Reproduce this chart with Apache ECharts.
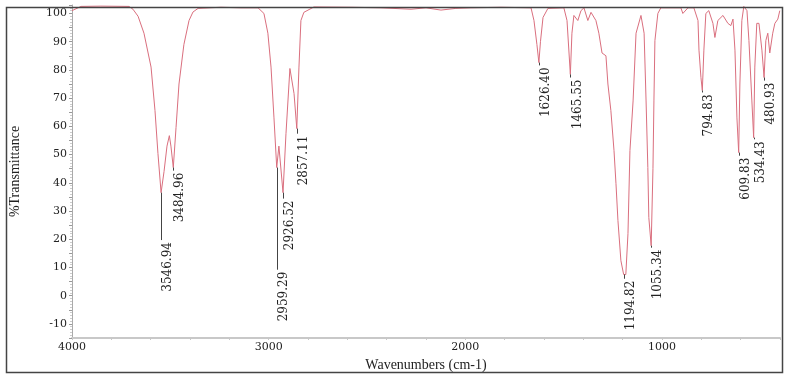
<!DOCTYPE html>
<html>
<head>
<meta charset="utf-8">
<script src="https://cdn.jsdelivr.net/npm/echarts@6/dist/echarts.min.js"></script>
<style>
html,body{margin:0;padding:0;background:#fff;}
#chart{width:786px;height:377px;}
</style>
</head>
<body>
<div id="chart"></div>
<script>
// Spectrum trace (wavenumber cm-1, %T)
const wavenumbers = [4000,3954,3853,3710,3690,3664,3634,3598,3578,3563,3547,3532,3517,3505,3497,3485,3471,3456,3431,3405,3385,3359,3243,3141,3054,3024,3004,2988,2973,2959,2948,2927,2912,2892,2871,2857,2846,2836,2821,2770,2582,2429,2276,2200,2124,2048,1972,1819,1666,1651,1636,1626,1618,1605,1580,1499,1483,1466,1458,1448,1428,1412,1397,1377,1361,1336,1321,1305,1285,1275,1260,1244,1234,1224,1209,1195,1184,1173,1163,1147,1132,1107,1091,1081,1072,1067,1055,1046,1041,1036,1021,1006,904,894,868,838,817,812,802,795,787,777,762,741,731,716,690,665,650,639,629,619,610,604,594,584,568,558,543,534,528,518,507,492,481,472,462,452,437,426,411,401];
const transmittance = [101,102.5,102.6,102.5,101.5,99,93,81,65.6,50.4,36.5,44,53,56.7,53,45.4,59.6,75,89,97.5,100.5,101.8,102.2,102,102,100,93,81,63,45.4,53,36.5,57.4,80.5,71.6,59.2,81,97.5,100.4,102.3,102.2,102,101.5,102,101.2,101.8,102,102.2,102,97.5,89,82.6,90,98.6,101.8,102,97.5,78.4,93,99.3,97.5,101,102,97.5,100.4,97.5,93,86,85,75,65.6,51.4,39.7,26.6,12.4,7.5,7.5,22,51.4,69,93,99.3,93,69,45.4,27.7,17.7,45,69,90.4,100,102,102,100,102,102,97.5,87,77.3,72.7,87,100,101,96.5,91.5,97.5,99.3,96.5,95.7,98,87,63,50.7,75,97.5,102.5,101,90.4,69,56,81,96.5,96.5,87,77.3,90.4,93,86,93,96.5,98,101];

// Peak annotations
const peakWavenumbers = [3546.94,3484.96,2959.29,2926.52,2857.11,1626.40,1465.55,1194.82,1055.34,794.83,609.83,534.43,480.93];
const peakMinT = [36.5,45.4,45.4,36.5,59.2,82.6,78.4,7.5,17.7,72.7,50.7,56,77.3];
const peakLabelT = [19.7,44.3,9.2,34.4,57.4,81.6,77.3,6.0,17.0,72.0,49.6,55.4,76.2];
const peakLabels = ['3546.94','3484.96','2959.29','2926.52','2857.11','1626.40','1465.55','1194.82','1055.34','794.83','609.83','534.43','480.93'];

// Tick labels
const xTickLabels = [1000,2000,3000,4000];
const yTickLabels = [-10,0,10,20,30,40,50,60,70,80,90,100];

const spectrum = wavenumbers.map((w,i)=>[w, transmittance[i]]);
const peakData = peakWavenumbers.map((w,i)=>[w, peakMinT[i], peakLabelT[i]]);

const chart = echarts.init(document.getElementById('chart'), null, {renderer:'canvas'});
const tickFont = '"DejaVu Serif", serif';
chart.setOption({
  backgroundColor:'#fff',
  animation:false,
  grid:{left:71, right:6, top:5, bottom:39, containLabel:false},
  xAxis:{
    type:'value', inverse:true, min:400, max:4000, interval:200,
    name:'Wavenumbers (cm-1)', nameLocation:'middle', nameGap:12,
    nameTextStyle:{fontFamily:'"Liberation Serif", serif', fontSize:14, color:'#222'},
    axisLine:{show:true, onZero:false, lineStyle:{color:'#c8c8c8', width:2}},
    axisTick:{show:true, length:2, lineStyle:{color:'#c8c8c8'}},
    axisLabel:{margin:4, fontFamily:tickFont, fontSize:11, color:'#222',
      formatter:v=> xTickLabels.includes(v) ? String(v) : ''},
    splitLine:{show:false}
  },
  yAxis:{
    type:'value', min:-15, max:103, interval:5,
    name:'%Transmittance', nameLocation:'middle', nameGap:50, nameRotate:90,
    nameTextStyle:{fontFamily:'"Liberation Serif", serif', fontSize:14, color:'#222'},
    axisLine:{show:true, onZero:false, lineStyle:{color:'#aaa', width:1}},
    axisTick:{show:true, length:3, lineStyle:{color:'#999'}},
    minorTick:{show:true, splitNumber:5, length:2, lineStyle:{color:'#ccc'}},
    axisLabel:{margin:5, fontFamily:tickFont, fontSize:11, color:'#222',
      formatter:v=> yTickLabels.includes(v) ? String(v) : ''},
    splitLine:{show:false}
  },
  graphic:[{
    type:'rect', left:4, top:5, silent:true, z:100,
    shape:{width:776, height:365},
    style:{fill:'none', stroke:'#444', lineWidth:1.5}
  }],
  series:[
    {
      type:'line', data:spectrum, showSymbol:false, symbol:'none',
      lineStyle:{color:'#da6f7e', width:1}, z:3
    },
    {
      type:'custom', data:peakData, z:4,
      encode:{x:0, y:1},
      renderItem:function(params, api){
        const p = api.coord([api.value(0), api.value(1)]);
        const q = api.coord([api.value(0), api.value(2)]);
        return {
          type:'group',
          children:[
            {type:'line', shape:{x1:Math.round(p[0])+0.5, y1:p[1], x2:Math.round(p[0])+0.5, y2:q[1]},
             style:{stroke:'#444', lineWidth:1}},
            {type:'text', x:p[0]+7, y:q[1]+2, rotation:Math.PI/2,
             style:{text:peakLabels[params.dataIndex], align:'right', verticalAlign:'middle',
                    font:'12px "DejaVu Serif", serif', fill:'#222'}}
          ]
        };
      }
    }
  ]
});
</script>
</body>
</html>
